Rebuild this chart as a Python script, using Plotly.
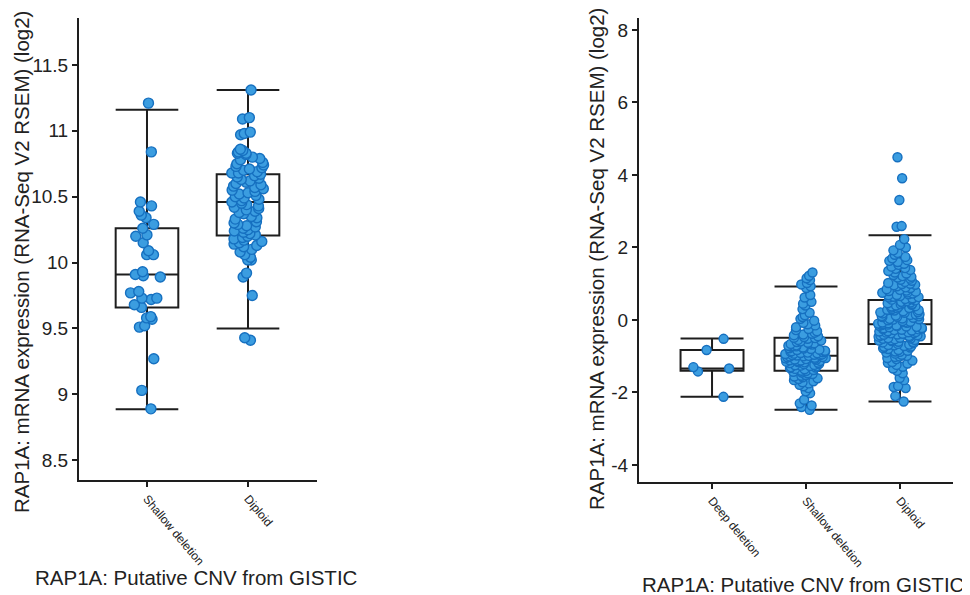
import plotly.graph_objects as go

# ---------------- data ----------------
left_categories = ["Shallow deletion", "Diploid"]
left_q1 = [9.66, 10.205]
left_median = [9.91, 10.46]
left_q3 = [10.26, 10.67]
left_lower = [8.886, 9.50]
left_upper = [11.16, 11.31]

left_shallow_pts = [11.21, 10.84, 10.46, 10.43, 10.39, 10.36, 10.34, 10.29, 10.26, 10.21,
                    10.20, 10.15, 10.09, 10.06, 10.06, 9.93, 9.91, 9.90, 9.89, 9.78,
                    9.77, 9.73, 9.73, 9.72, 9.68, 9.66, 9.59, 9.58, 9.57, 9.52,
                    9.51, 9.27, 9.03, 8.89]
left_diploid_pts = [11.31, 11.10, 11.09, 10.99, 10.98, 10.97, 10.86, 10.85, 10.84, 10.83,
                    10.83, 10.82, 10.80, 10.79, 10.78, 10.76, 10.75, 10.74, 10.73, 10.72,
                    10.71, 10.70, 10.69, 10.68, 10.68, 10.67, 10.66, 10.65, 10.64, 10.63,
                    10.62, 10.61, 10.60, 10.59, 10.58, 10.57, 10.56, 10.55, 10.54, 10.53,
                    10.52, 10.51, 10.50, 10.49, 10.48, 10.47, 10.46, 10.45, 10.44, 10.43,
                    10.42, 10.41, 10.40, 10.39, 10.38, 10.37, 10.35, 10.34, 10.33, 10.31,
                    10.30, 10.29, 10.28, 10.27, 10.26, 10.25, 10.24, 10.23, 10.22, 10.21,
                    10.20, 10.19, 10.18, 10.17, 10.16, 10.15, 10.14, 10.13, 10.12, 10.10,
                    10.08, 10.06, 10.04, 10.02, 10.02, 9.92, 9.89, 9.75, 9.43, 9.41]

right_categories = ["Deep deletion", "Shallow deletion", "Diploid"]
right_q1 = [-1.40, -1.40, -0.66]
right_median = [-1.34, -0.99, -0.12]
right_q3 = [-0.83, -0.49, 0.55]
right_lower = [-2.12, -2.48, -2.25]
right_upper = [-0.51, 0.92, 2.34]

right_deep_pts = [-0.52, -0.83, -1.30, -1.34, -1.42, -2.12]
right_shallow_pts = [1.31, 1.22, 1.15, 1.10, 1.02, 0.98, 0.93, 0.88, 0.69, 0.62,
                     0.50, 0.45, 0.40, 0.30, 0.20, 0.13, 0.08, 0.03, -0.02, -0.08,
                     -0.12, -0.15, -0.20, -0.25, -0.28, -0.31, -0.35, -0.38, -0.40, -0.42,
                     -0.45, -0.47, -0.49, -0.50, -0.52, -0.55, -0.57, -0.59, -0.61, -0.63,
                     -0.65, -0.66, -0.68, -0.70, -0.71, -0.73, -0.74, -0.76, -0.78, -0.79,
                     -0.80, -0.82, -0.83, -0.85, -0.86, -0.87, -0.89, -0.90, -0.91, -0.92,
                     -0.94, -0.95, -0.96, -0.97, -0.98, -0.99, -1.00, -1.01, -1.02, -1.03,
                     -1.04, -1.06, -1.07, -1.08, -1.09, -1.10, -1.12, -1.13, -1.14, -1.15,
                     -1.17, -1.18, -1.19, -1.21, -1.22, -1.24, -1.25, -1.27, -1.28, -1.30,
                     -1.31, -1.33, -1.35, -1.36, -1.38, -1.40, -1.41, -1.43, -1.45, -1.47,
                     -1.49, -1.52, -1.54, -1.56, -1.58, -1.61, -1.63, -1.66, -1.69, -1.72,
                     -1.75, -1.79, -1.83, -1.88, -1.97, -2.02, -2.20, -2.30, -2.36, -2.40,
                     -2.48, -0.93, -0.97, -1.05, -1.11, -0.88, -0.72, -0.64, -1.16, -1.26]
right_diploid_pts = [4.49, 3.91, 3.31, 2.59, 2.57, 2.23, 2.07, 2.00, 1.92, 1.85,
                     1.80, 1.74, 1.70, 1.65, 1.60, 1.55, 1.52, 1.47, 1.43, 1.38,
                     1.35, 1.31, 1.28, 1.24, 1.21, 1.17, 1.14, 1.11, 1.08, 1.05,
                     1.02, 0.99, 0.96, 0.93, 0.90, 0.88, 0.85, 0.83, 0.80, 0.78,
                     0.75, 0.73, 0.71, 0.68, 0.66, 0.64, 0.62, 0.60, 0.58, 0.56,
                     0.54, 0.52, 0.50, 0.48, 0.46, 0.44, 0.42, 0.40, 0.38, 0.36,
                     0.34, 0.32, 0.30, 0.28, 0.26, 0.24, 0.22, 0.20, 0.18, 0.16,
                     0.14, 0.12, 0.10, 0.08, 0.06, 0.04, 0.03, 0.01, -0.01, -0.03,
                     -0.05, -0.06, -0.08, -0.10, -0.11, -0.13, -0.14, -0.16, -0.17, -0.19,
                     -0.20, -0.22, -0.23, -0.25, -0.26, -0.28, -0.29, -0.31, -0.32, -0.34,
                     -0.35, -0.37, -0.38, -0.40, -0.41, -0.43, -0.44, -0.46, -0.47, -0.49,
                     -0.50, -0.52, -0.53, -0.55, -0.57, -0.58, -0.60, -0.62, -0.64, -0.66,
                     -0.68, -0.70, -0.72, -0.74, -0.76, -0.78, -0.80, -0.83, -0.85, -0.88,
                     -0.90, -0.93, -0.96, -0.99, -1.02, -1.05, -1.08, -1.12, -1.16, -1.20,
                     -1.24, -1.29, -1.34, -1.40, -1.47, -1.60, -1.66, -1.82, -1.85, -1.88,
                     -2.10, -2.25, 1.63, 1.41, 1.19, 0.97, 0.81, 0.69, 0.57, 0.43,
                     0.33, 0.21, 0.11, 0.02, -0.07, -0.15, -0.24, -0.33, -0.42, -0.51,
                     -0.61, -0.73, -0.87, -1.01, -1.18, -0.36, -0.18, 0.09, 0.27, 0.47,
                     -0.45, -0.27, -0.09, 0.15, 0.37, 0.63, -0.56, -0.69, 0.76, 1.00]

left_yticks = [8.5, 9, 9.5, 10, 10.5, 11, 11.5]
left_yticktext = ["8.5", "9", "9.5", "10", "10.5", "11", "11.5"]
right_yticks = [-4, -2, 0, 2, 4, 6, 8]
right_yticktext = ["-4", "-2", "0", "2", "4", "6", "8"]

y_title = "RAP1A: mRNA expression (RNA-Seq V2 RSEM) (log2)"
x_title = "RAP1A: Putative CNV from GISTIC"

# ---------------- styles ----------------
FONT = "Arial, Liberation Sans, sans-serif"
FILL = "#3b9de0"
EDGE = "#1670c0"
AXIS = "#1e1e1e"

fig = go.Figure()

def add_boxes(cats, q1, med, q3, lo, hi, pts, xa, ya, width, msize, jit):
    for i, c in enumerate(cats):
        fig.add_trace(go.Box(
            x=[c], y=[pts[i]],
            q1=[q1[i]], median=[med[i]], q3=[q3[i]],
            lowerfence=[lo[i]], upperfence=[hi[i]],
            boxpoints="all", jitter=jit, pointpos=0,
            width=width, whiskerwidth=1,
            fillcolor="rgba(0,0,0,0)",
            line=dict(color=AXIS, width=2),
            marker=dict(color=FILL, size=msize, opacity=1,
                        line=dict(color=EDGE, width=1.4)),
            xaxis=xa, yaxis=ya, showlegend=False,
        ))

add_boxes(left_categories, left_q1, left_median, left_q3, left_lower, left_upper,
          [left_shallow_pts, left_diploid_pts], "x", "y", 0.62, 10, 0.55)
add_boxes(right_categories, right_q1, right_median, right_q3, right_lower, right_upper,
          [right_deep_pts, right_shallow_pts, right_diploid_pts], "x2", "y2", 0.67, 9, 0.7)

# page body has an 8px margin; figure sized to fill the rest of the window
OFF = 8
W, H = 970 - OFF, 595 - OFF
def px(x):
    return (x - OFF) / W
def py(y):
    return 1 - (y - OFF) / H

axis_common = dict(showline=True, linecolor=AXIS, linewidth=2, ticks="outside",
                   ticklen=5, tickwidth=2, tickcolor=AXIS, showgrid=False,
                   zeroline=False, automargin=False, mirror=False)

fig.update_layout(
    width=W, height=H, autosize=False,
    margin=dict(l=0, r=0, t=0, b=0),
    paper_bgcolor="white", plot_bgcolor="white",
    boxmode="overlay",
    font=dict(family=FONT, color="#222"),
    xaxis=dict(domain=[px(79), px(317)], anchor="y", type="category",
               categoryorder="array", categoryarray=left_categories,
               range=[-0.673, 1.683], tickangle=50,
               tickfont=dict(size=12, family=FONT, color="#222"), **axis_common),
    yaxis=dict(domain=[py(480), py(18)], anchor="x", range=[8.35, 11.856],
               tickvals=left_yticks, ticktext=left_yticktext,
               tickfont=dict(size=19, family=FONT, color="#222"), **axis_common),
    xaxis2=dict(domain=[px(639), px(953)], anchor="y2", type="category",
                categoryorder="array", categoryarray=right_categories,
                range=[-0.777, 2.564], tickangle=50,
                tickfont=dict(size=12, family=FONT, color="#222"), **axis_common),
    yaxis2=dict(domain=[py(482), py(18)], anchor="x2", range=[-4.47, 8.33],
                tickvals=right_yticks, ticktext=right_yticktext,
                tickfont=dict(size=19, family=FONT, color="#222"), **axis_common),
)

ann = dict(xref="paper", yref="paper", showarrow=False,
           font=dict(family=FONT, size=20.5, color="#222"))
fig.add_annotation(text=y_title, x=px(21), y=py(262), textangle=-90,
                   xanchor="center", yanchor="middle", **ann)
fig.add_annotation(text=y_title, x=px(596), y=py(259), textangle=-90,
                   xanchor="center", yanchor="middle", **ann)
fig.add_annotation(text=x_title, x=px(196), y=py(577),
                   xanchor="center", yanchor="middle", **ann)
fig.add_annotation(text=x_title, x=px(803), y=py(584),
                   xanchor="center", yanchor="middle", **ann)

fig.write_html("out.html")
